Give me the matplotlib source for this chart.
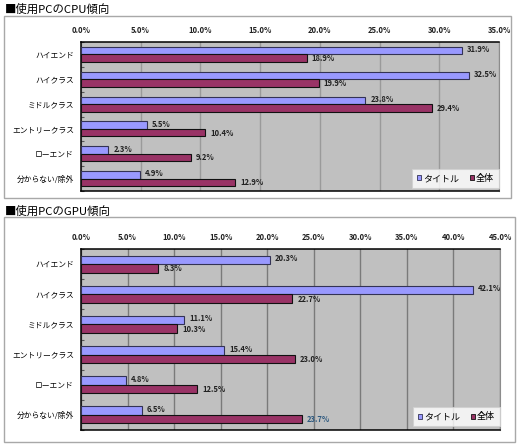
import numpy as np
import matplotlib
matplotlib.use("Agg")
import matplotlib.pyplot as plt
from matplotlib.patches import Rectangle, Patch
from matplotlib.ticker import MultipleLocator, FuncFormatter

plt.rcParams['font.family'] = ['Noto Sans CJK JP', 'DejaVu Sans']

categories = ["ハイエンド", "ハイクラス", "ミドルクラス", "エントリークラス", "ローエンド", "分からない/除外"]
series_names = ["タイトル", "全体"]

cpu_title = [31.9, 32.5, 23.8, 5.5, 2.3, 4.9]
cpu_all = [18.9, 19.9, 29.4, 10.4, 9.2, 12.9]

gpu_title = [20.3, 42.1, 11.1, 15.4, 4.8, 6.5]
gpu_all = [8.3, 22.7, 10.3, 23.0, 12.5, 23.7]

BLUE = "#9999ff"
MAROON = "#993366"
BG = "#c0c0c0"

W, H = 519, 446
fig = plt.figure(figsize=(W / 100, H / 100), dpi=100)


def px_rect(x0, y0, x1, y1):
    # pixel box (top-left origin) -> figure fraction [l, b, w, h]
    return [x0 / W, 1 - y1 / H, (x1 - x0) / W, (y1 - y0) / H]


def draw_panel(title, frame, plot, vals_a, vals_b, xmax, bar_h, grid_col, title_y):
    l, b, w, h = px_rect(*frame)
    fig.patches.append(Rectangle((l, b), w, h, transform=fig.transFigure,
                                 facecolor="white", edgecolor="#a8a8a8", lw=1.0, zorder=-5))
    fig.text(5 / W, 1 - title_y / H, title, fontsize=8.2, va="center", ha="left")

    ax = fig.add_axes(px_rect(*plot))
    ax.set_facecolor(BG)
    y = np.arange(len(categories))
    ax.barh(y - bar_h / 2, vals_a, height=bar_h, color=BLUE, edgecolor="#333355", lw=0.8, zorder=3)
    ax.barh(y + bar_h / 2, vals_b, height=bar_h, color=MAROON, edgecolor="#111111", lw=0.8, zorder=3)

    for i, (a, v) in enumerate(zip(vals_a, vals_b)):
        ax.text(a + xmax * 0.012, i - bar_h / 2 - 0.04, f"{a:.1f}%", fontsize=5.5,
                fontweight="bold", va="center", ha="left", color="#222222", zorder=4)
        col = "#2f5a80" if (xmax == 45 and i == 5) else "#222222"
        ax.text(v + xmax * 0.012, i + bar_h / 2 + 0.02, f"{v:.1f}%", fontsize=5.5,
                fontweight="bold", va="center", ha="left", color=col, zorder=4)

    ax.set_xlim(0, xmax)
    ax.set_ylim(len(categories) - 0.5, -0.5)
    ax.xaxis.set_major_locator(MultipleLocator(5))
    ax.xaxis.set_major_formatter(FuncFormatter(lambda v, p: f"{v:.1f}%"))
    ax.xaxis.tick_top()
    ax.tick_params(axis="x", length=0, labelsize=5.5, pad=5, colors="#222222")
    for t in ax.get_xticklabels():
        t.set_fontweight("bold")
    ax.grid(axis="x", color=grid_col, lw=1.0, zorder=1)

    ax.set_yticks(y)
    ax.set_yticklabels(categories, fontsize=5.6)
    ax.set_yticks(np.arange(len(categories) + 1) - 0.5, minor=True)
    ax.tick_params(axis="y", which="major", length=0, pad=5)
    ax.tick_params(axis="y", which="minor", direction="in", length=2.5, color="#555555", width=0.8)

    for side in ("left", "top", "bottom"):
        ax.spines[side].set_color("black")
        ax.spines[side].set_linewidth(1.1)
    ax.spines["right"].set_color("#8c8c8c")
    ax.spines["right"].set_linewidth(0.8)

    handles = [Patch(facecolor=BLUE, edgecolor="#333355", lw=0.6),
               Patch(facecolor=MAROON, edgecolor="#111111", lw=0.6)]
    leg = ax.legend(handles, series_names, loc="lower right", bbox_to_anchor=(1.0, 0.02),
                    ncol=2, fontsize=6.5, frameon=True, fancybox=False,
                    handlelength=0.5, handleheight=0.5, handletextpad=0.2,
                    columnspacing=1.2, borderpad=0.55, borderaxespad=0.0)
    leg.get_frame().set_edgecolor("#d0d0d0")
    leg.get_frame().set_linewidth(0.8)
    leg.set_zorder(5)
    return ax


draw_panel("■使用PCのCPU傾向", (4, 16, 511, 198), (81, 42, 499, 191),
           cpu_title, cpu_all, 35, 0.30, "#9a9a9a", 9)
draw_panel("■使用PCのGPU傾向", (4, 217, 515, 442), (81, 249, 500, 430),
           gpu_title, gpu_all, 45, 0.28, "#7a7a7a", 211)

fig.savefig("out.png", dpi=100)
